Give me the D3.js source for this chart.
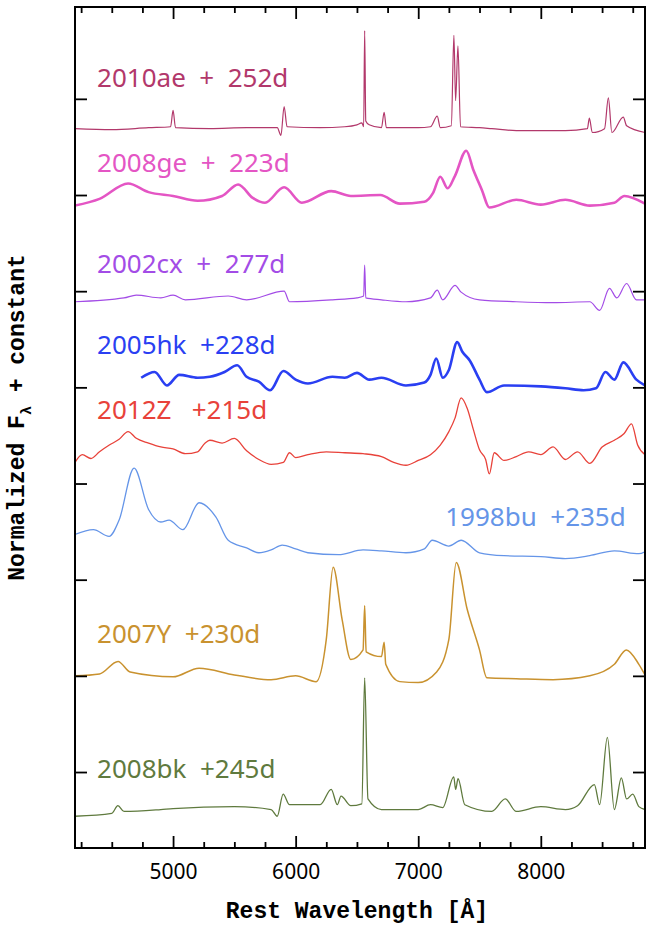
<!DOCTYPE html>
<html>
<head>
<meta charset="utf-8">
<script src="https://cdn.jsdelivr.net/npm/d3@7"></script>
<style>
  body { margin: 0; background: #fff; }
  .lbl { font-family: "Noto Sans", sans-serif; font-size: 26px; }
  .tick text { font-family: "Noto Sans", sans-serif; font-size: 21px; }
  .axis-title { font-family: "Liberation Mono", monospace; font-weight: bold; font-size: 23px; }
</style>
</head>
<body>
<div id="chart"></div>
<script>
// Spectra: [wavelength (Å), normalized flux + constant]
const sn2010ae = [[4200,7.69],[4500,7.68],[4800,7.70],[4980,7.71],[5000,7.88],[5020,7.70],[5300,7.69],[5600,7.70],[5850,7.70],[5880,7.62],[5906,7.92],[5930,7.71],[6200,7.70],[6400,7.71],[6500,7.73],[6540,7.75],[6555,7.71],[6563,8.71],[6572,7.77],[6600,7.73],[6700,7.70],[6722,7.86],[6740,7.70],[7000,7.70],[7100,7.71],[7155,7.82],[7180,7.70],[7270,7.72],[7291,8.66],[7305,7.98],[7324,8.55],[7345,7.71],[7500,7.70],[7600,7.69],[7800,7.67],[8000,7.67],[8200,7.67],[8380,7.69],[8396,7.80],[8420,7.65],[8520,7.69],[8551,8.01],[8580,7.65],[8673,7.81],[8700,7.72],[8850,7.65]];
const sn2008ge = [[4200,6.89],[4400,6.96],[4633,7.12],[4800,7.03],[5000,6.99],[5200,6.94],[5400,6.99],[5531,7.11],[5650,6.97],[5750,6.92],[5906,7.08],[6050,6.92],[6290,7.04],[6450,6.99],[6690,7.00],[6850,6.91],[7050,6.93],[7120,7.02],[7180,7.19],[7240,7.07],[7300,7.20],[7392,7.46],[7450,7.26],[7520,7.05],[7580,6.87],[7800,6.95],[8000,6.90],[8200,6.95],[8400,6.89],[8600,6.92],[8682,6.99],[8850,6.91]];
const sn2002cx = [[4200,5.89],[4600,5.93],[4700,5.96],[4900,5.93],[5000,5.96],[5100,5.91],[5450,5.95],[5600,5.91],[5906,6.00],[5950,5.89],[6300,5.91],[6500,5.93],[6555,5.95],[6563,6.27],[6572,5.93],[6700,5.91],[6900,5.89],[7100,5.93],[7155,6.01],[7200,5.91],[7300,6.06],[7350,5.99],[7500,5.91],[7800,5.89],[8100,5.88],[8400,5.89],[8480,5.80],[8560,6.03],[8620,5.93],[8700,6.08],[8780,5.91],[8850,5.91]];
const sn2005hk = [[4740,5.10],[4850,5.16],[4950,5.02],[5050,5.13],[5200,5.10],[5300,5.11],[5420,5.16],[5523,5.23],[5600,5.11],[5700,5.06],[5792,4.97],[5900,5.17],[6000,5.08],[6100,5.04],[6300,5.11],[6400,5.10],[6500,5.15],[6600,5.08],[6700,5.10],[6900,5.02],[7050,5.05],[7100,5.13],[7147,5.30],[7200,5.10],[7250,5.18],[7318,5.47],[7360,5.37],[7420,5.28],[7500,5.08],[7560,4.95],[7700,5.02],[8000,5.01],[8200,4.99],[8350,4.97],[8450,4.99],[8527,5.16],[8600,5.08],[8673,5.26],[8780,5.08],[8850,5.02]];
const sn2012Z = [[4200,4.22],[4260,4.30],[4330,4.26],[4400,4.33],[4480,4.40],[4560,4.46],[4633,4.54],[4700,4.47],[4800,4.42],[4900,4.38],[5000,4.36],[5100,4.31],[5200,4.33],[5260,4.42],[5300,4.45],[5400,4.42],[5500,4.47],[5600,4.34],[5700,4.25],[5800,4.20],[5900,4.22],[5950,4.32],[6000,4.27],[6100,4.30],[6250,4.33],[6400,4.32],[6550,4.31],[6700,4.28],[6800,4.22],[6900,4.19],[7000,4.24],[7100,4.30],[7180,4.40],[7250,4.54],[7300,4.68],[7350,4.89],[7400,4.78],[7450,4.56],[7500,4.35],[7550,4.25],[7580,4.10],[7620,4.32],[7700,4.24],[7800,4.28],[7900,4.33],[8000,4.30],[8100,4.38],[8200,4.25],[8300,4.33],[8400,4.21],[8500,4.38],[8600,4.45],[8680,4.52],[8740,4.62],[8790,4.40],[8850,4.30]];
const sn1998bu = [[4200,3.47],[4350,3.52],[4478,3.45],[4560,3.62],[4682,4.16],[4800,3.73],[4900,3.60],[4967,3.62],[5080,3.52],[5212,3.80],[5350,3.65],[5450,3.41],[5600,3.33],[5700,3.28],[5800,3.31],[5890,3.36],[6000,3.32],[6100,3.28],[6350,3.26],[6550,3.31],[6700,3.30],[6900,3.28],[7050,3.32],[7114,3.41],[7250,3.35],[7351,3.41],[7500,3.28],[7700,3.25],[8000,3.24],[8200,3.22],[8400,3.25],[8600,3.30],[8800,3.27],[8850,3.29]];
const sn2007Y = [[4200,2.00],[4400,2.02],[4551,2.15],[4650,2.04],[5000,1.99],[5212,2.08],[5500,2.01],[5800,1.96],[6000,2.00],[6167,1.94],[6250,2.38],[6306,3.13],[6380,2.58],[6450,2.17],[6550,2.27],[6563,2.73],[6575,2.25],[6700,2.20],[6722,2.35],[6735,2.12],[6850,1.94],[7000,1.93],[7150,2.04],[7250,2.38],[7310,3.18],[7400,2.69],[7500,2.27],[7560,1.98],[7800,1.97],[8100,1.96],[8400,2.00],[8600,2.12],[8698,2.27],[8800,2.12],[8850,2.01]];
const sn2008bk = [[4200,0.54],[4500,0.57],[4550,0.65],[4600,0.59],[4900,0.61],[5000,0.62],[5500,0.64],[5800,0.61],[5850,0.54],[5898,0.77],[5950,0.66],[6200,0.66],[6290,0.82],[6340,0.66],[6370,0.75],[6450,0.65],[6540,0.67],[6563,1.98],[6590,0.72],[6700,0.61],[7000,0.61],[7100,0.66],[7200,0.63],[7290,0.95],[7305,0.82],[7325,0.93],[7380,0.66],[7600,0.59],[7710,0.72],[7800,0.59],[8000,0.64],[8200,0.61],[8300,0.65],[8437,0.87],[8480,0.66],[8543,1.36],[8600,0.61],[8657,0.94],[8700,0.72],[8750,0.77],[8800,0.64],[8850,0.61]];

const spectra = [
  { name: "2010ae  +  252d", data: sn2010ae, color: "#b2386b", w: 1.2, lx: 4380, ly: 8.12 },
  { name: "2008ge  +  223d", data: sn2008ge, color: "#e455c4", w: 2.6, lx: 4380, ly: 7.24 },
  { name: "2002cx  +  277d", data: sn2002cx, color: "#a34ce6", w: 1.2, lx: 4380, ly: 6.19 },
  { name: "2005hk  +228d", data: sn2005hk, color: "#2a3ff2", w: 2.6, lx: 4380, ly: 5.35 },
  { name: "2012Z   +215d", data: sn2012Z, color: "#e8423a", w: 1.3, lx: 4380, ly: 4.67 },
  { name: "1998bu  +235d", data: sn1998bu, color: "#6595e8", w: 1.3, lx: 7220, ly: 3.56 },
  { name: "2007Y  +230d", data: sn2007Y, color: "#c9922f", w: 1.5, lx: 4380, ly: 2.34 },
  { name: "2008bk  +245d", data: sn2008bk, color: "#5f7a3e", w: 1.3, lx: 4380, ly: 0.94 }
];

const W = 648, H = 927;
const margin = { top: 7, right: 3, bottom: 79, left: 75 };
const width = W - margin.left - margin.right;
const height = H - margin.top - margin.bottom;

const svg = d3.select("#chart").append("svg").attr("width", W).attr("height", H)
  .append("g").attr("transform", `translate(${margin.left},${margin.top})`);

const x = d3.scaleLinear().domain([4200, 8850]).range([0, width]);
const y = d3.scaleLinear().domain([0.21, 8.955]).range([height, 0]);

svg.append("clipPath").attr("id", "c").append("rect").attr("width", width).attr("height", height);

const line = d3.line().x(d => x(d[0])).y(d => y(d[1])).curve(d3.curveMonotoneX);
const g = svg.append("g").attr("clip-path", "url(#c)");
spectra.forEach(s => {
  g.append("path").datum(s.data).attr("fill", "none")
    .attr("stroke", s.color).attr("stroke-width", s.w).attr("stroke-linejoin", "round")
    .attr("d", line);
  svg.append("text").attr("class", "lbl").attr("x", x(s.lx)).attr("y", y(s.ly))
    .attr("fill", s.color).style("white-space", "pre").text(s.name);
});

// axes with inward ticks
const major = [5000, 6000, 7000, 8000];
const minor = d3.range(4250, 8851, 250).filter(v => v % 1000 !== 0);
const yt = [1, 2, 3, 4, 5, 6, 7, 8];

svg.append("g").attr("transform", `translate(0,${height})`)
  .call(d3.axisBottom(x).tickValues(major).tickSize(-12).tickPadding(16).tickFormat(d3.format("d")));
svg.append("g").attr("transform", `translate(0,${height})`)
  .call(d3.axisBottom(x).tickValues(minor).tickSize(-6).tickFormat(""));
svg.append("g").call(d3.axisTop(x).tickValues(major).tickSize(-12).tickFormat(""));
svg.append("g").call(d3.axisTop(x).tickValues(minor).tickSize(-6).tickFormat(""));
svg.append("g").call(d3.axisLeft(y).tickValues(yt).tickSize(-12).tickFormat(""));
svg.append("g").attr("transform", `translate(${width},0)`)
  .call(d3.axisRight(y).tickValues(yt).tickSize(-12).tickFormat(""));
svg.selectAll(".domain").remove();
svg.selectAll(".tick line").attr("stroke", "#000").attr("stroke-width", 1.8);
svg.append("rect").attr("width", width).attr("height", height)
  .attr("fill", "none").attr("stroke", "#000").attr("stroke-width", 2);

svg.append("text").attr("class", "axis-title").attr("x", x(6500)).attr("y", height + 70)
  .attr("text-anchor", "middle").text("Rest Wavelength [Å]");
const yl = svg.append("text").attr("class", "axis-title")
  .attr("transform", `translate(${-51},${height / 2 - 10}) rotate(-90)`).attr("text-anchor", "middle");
yl.append("tspan").text("Normalized F");
yl.append("tspan").attr("dy", 7).attr("font-size", 15).text("λ");
yl.append("tspan").attr("dy", -7).text(" + constant");
</script>
</body>
</html>
